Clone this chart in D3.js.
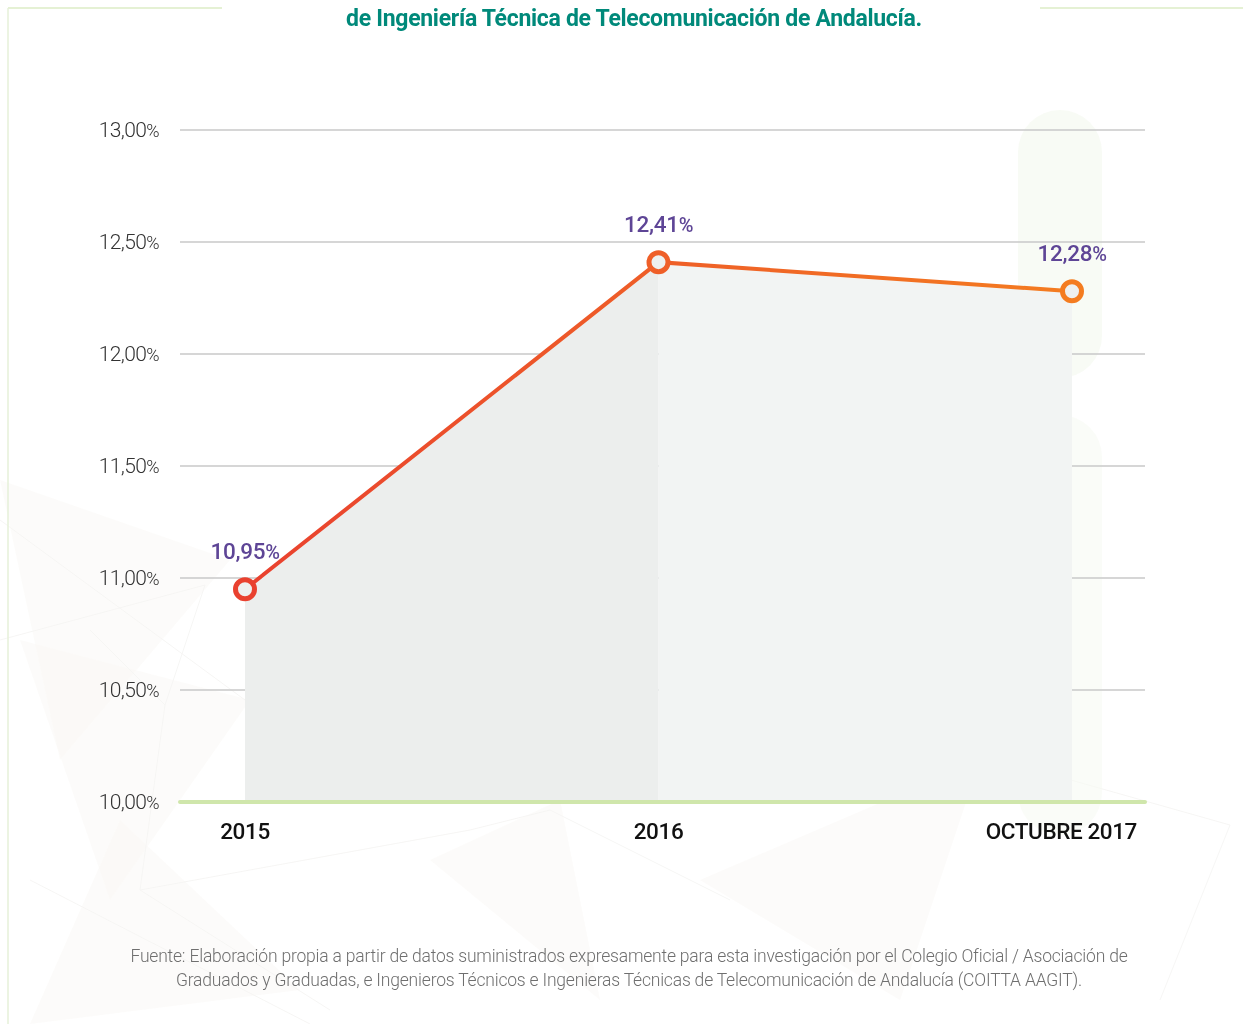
<!DOCTYPE html>
<html>
<head>
<meta charset="utf-8">
<script src="https://cdn.jsdelivr.net/npm/d3@7"></script>
<style>
  body { margin: 0; background: #fff; }
  svg { display: block; }
</style>
</head>
<body>
<div id="chart"></div>
<script>
//============== data ===============//
const years = ["2015", "2016", "OCTUBRE 2017"];
const rates = [10.95, 12.41, 12.28];
const yTicks = [10, 10.5, 11, 11.5, 12, 12.5, 13];
const titleText = "de Ingeniería Técnica de Telecomunicación de Andalucía.";
const sourceLines = [
  "Fuente: Elaboración propia a partir de datos suministrados expresamente para esta investigación por el Colegio Oficial / Asociación de",
  "Graduados y Graduadas, e Ingenieros Técnicos e Ingenieras Técnicas de Telecomunicación de Andalucía (COITTA AAGIT)."
];

//============== env ===============//
const W = 1243, H = 1024;
const margin = {top: 130, right: 98, bottom: 222, left: 180};
const fmt = v => v.toFixed(2).replace(".", ",");

const svg = d3.select("#chart").append("svg")
  .attr("width", W).attr("height", H);

// faint background decoration (network / triangles)
const deco = svg.append("g").attr("opacity", 0.35);
[[0,480,230,560,60,760],[20,640,250,700,110,900],[120,820,300,990,30,1024],
 [430,860,560,800,600,1000],[700,880,980,760,900,1000]].forEach(p => {
  deco.append("polygon")
    .attr("points", `${p[0]},${p[1]} ${p[2]},${p[3]} ${p[4]},${p[5]}`)
    .attr("fill", "#f1ede6").attr("opacity", 0.6);
});
[[0,640,205,585],[90,630,165,705],[0,520,245,700],[205,585,165,705],[165,705,140,890],
 [140,890,470,830],[470,830,550,810],[550,810,730,900],[30,880,310,1024],[140,890,330,1010],
 [1000,760,1230,825],[1230,825,1160,1000]].forEach(l => {
  deco.append("line")
    .attr("x1", l[0]).attr("y1", l[1]).attr("x2", l[2]).attr("y2", l[3])
    .attr("stroke", "#e6e4e0").attr("stroke-width", 1);
});
// faint green shape on the right
svg.append("rect").attr("x", 1018).attr("y", 110).attr("width", 84).attr("height", 268)
  .attr("rx", 42).attr("fill", "#f5f9f1").attr("opacity", 0.7);
svg.append("rect").attr("x", 1018).attr("y", 415).attr("width", 84).attr("height", 420)
  .attr("rx", 42).attr("fill", "#f6faf3").attr("opacity", 0.6);

// frame lines
svg.append("line").attr("x1", 8).attr("x2", 222).attr("y1", 8).attr("y2", 8)
  .attr("stroke", "#dcecc6").attr("stroke-width", 1.5);
svg.append("line").attr("x1", 1040).attr("x2", W).attr("y1", 8).attr("y2", 8)
  .attr("stroke", "#dcecc6").attr("stroke-width", 1.5);
svg.append("line").attr("x1", 8).attr("x2", 8).attr("y1", 8).attr("y2", H)
  .attr("stroke", "#e6f0d8").attr("stroke-width", 1.5);

// title (second line visible)
svg.append("text")
  .attr("x", 634).attr("y", 26)
  .attr("text-anchor", "middle")
  .style("font-family", "Roboto").style("font-weight", 700)
  .style("font-size", "23px").style("letter-spacing", "-0.3px")
  .attr("fill", "#00897a")
  .text(titleText);

//============== scales ===============//
const x = d3.scalePoint().domain(years).range([245, 1072]);
const y = d3.scaleLinear().domain([10, 13]).range([H - margin.bottom, margin.top]);
const plotL = margin.left, plotR = W - margin.right;

// gridlines
svg.append("g")
  .selectAll("line")
  .data(yTicks.slice(1))
  .join("line")
    .attr("x1", plotL).attr("x2", plotR)
    .attr("y1", d => y(d)).attr("y2", d => y(d))
    .attr("stroke", "#c9c9c9").attr("stroke-width", 1.5);

// y labels
const yAxis = svg.append("g")
  .selectAll("text")
  .data(yTicks)
  .join("text")
    .attr("x", 159).attr("y", d => y(d) + 7)
    .attr("text-anchor", "end")
    .style("font-family", "Roboto").style("font-weight", 300)
    .style("font-size", "21px").style("letter-spacing", "-0.6px")
    .attr("fill", "#333");
yAxis.append("tspan").text(d => fmt(d));
yAxis.append("tspan").style("font-size", "18px").text("%");

// area segments
const points = years.map((d, i) => ({year: d, value: rates[i]}));
const segFill = ["#eceeed", "#f2f4f3"];
svg.append("g")
  .selectAll("path")
  .data(d3.pairs(points))
  .join("path")
    .attr("d", p => d3.area().x(d => x(d.year)).y0(y(10)).y1(d => y(d.value))(p))
    .attr("fill", (d, i) => segFill[i]);

// baseline
svg.append("line")
  .attr("x1", plotL).attr("x2", plotR)
  .attr("y1", y(10)).attr("y2", y(10))
  .attr("stroke", "#cfe6ab").attr("stroke-width", 4)
  .attr("stroke-linecap", "round");

// line with gradient
const colA = "#e9412f", colB = "#f47c20";
const grad = svg.append("defs").append("linearGradient")
  .attr("id", "lineGrad").attr("gradientUnits", "userSpaceOnUse")
  .attr("x1", x(years[0])).attr("x2", x(years[years.length - 1]))
  .attr("y1", 0).attr("y2", 0);
grad.append("stop").attr("offset", "0%").attr("stop-color", colA);
grad.append("stop").attr("offset", "100%").attr("stop-color", colB);

svg.append("path")
  .datum(points)
  .attr("d", d3.line().x(d => x(d.year)).y(d => y(d.value)))
  .attr("fill", "none")
  .attr("stroke", "url(#lineGrad)")
  .attr("stroke-width", 4);

const colAt = d3.scaleLinear()
  .domain([x(years[0]), x(years[years.length - 1])])
  .range([colA, colB]).interpolate(d3.interpolateRgb);

svg.append("g")
  .selectAll("circle")
  .data(points)
  .join("circle")
    .attr("cx", d => x(d.year)).attr("cy", d => y(d.value))
    .attr("r", 9.5)
    .attr("fill", "#eef0ef")
    .attr("stroke", d => colAt(x(d.year)))
    .attr("stroke-width", 5);

// value labels
const vLab = svg.append("g")
  .selectAll("text")
  .data(points)
  .join("text")
    .attr("x", d => x(d.year))
    .attr("y", d => y(d.value) - 30)
    .attr("text-anchor", "middle")
    .style("font-family", "Roboto").style("font-weight", 500)
    .style("font-size", "22.5px").style("letter-spacing", "-0.3px")
    .attr("fill", "#5e4596");
vLab.append("tspan").text(d => fmt(d.value));
vLab.append("tspan").style("font-size", "20px").text("%");

// x labels (last one kept inside the plot edge)
svg.append("g")
  .selectAll("text")
  .data(years)
  .join("text")
    .attr("x", (d, i) => i === years.length - 1 ? plotR - 8 : x(d))
    .attr("y", y(10) + 37)
    .attr("text-anchor", (d, i) => i === years.length - 1 ? "end" : "middle")
    .style("font-family", "Roboto").style("font-weight", 500)
    .style("font-size", "22.5px").style("letter-spacing", "-0.4px")
    .attr("fill", "#111")
    .text(d => d);

// source
svg.append("g")
  .selectAll("text")
  .data(sourceLines)
  .join("text")
    .attr("x", 629)
    .attr("y", (d, i) => 962 + i * 24)
    .attr("text-anchor", "middle")
    .style("font-family", "Roboto").style("font-weight", 300)
    .style("font-size", "17.5px").style("letter-spacing", "-0.2px")
    .attr("fill", "#6f6f6f")
    .text(d => d);
</script>
</body>
</html>
